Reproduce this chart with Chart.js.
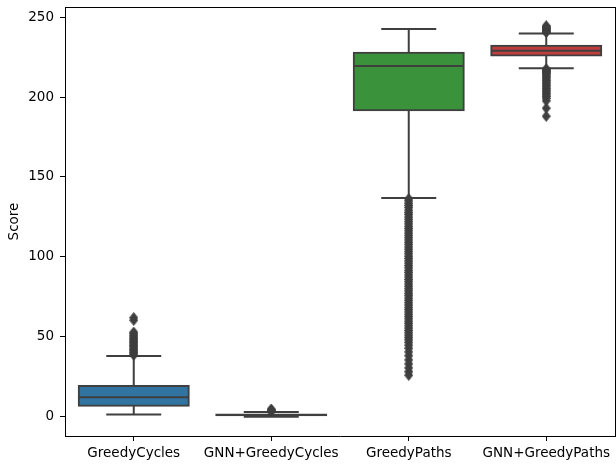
<!DOCTYPE html>
<html><head><meta charset="utf-8">
<script src="https://cdn.jsdelivr.net/npm/chart.js@4"></script>
<style>
html,body{margin:0;padding:0;background:#fff;overflow:hidden;width:616px;height:464px}
#wrap{width:620px;height:464px;position:relative}
</style></head>
<body><div id="wrap"><canvas id="c" width="620" height="464"></canvas></div>
<script>
// ---- data ----
const categories = ['GreedyCycles', 'GNN+GreedyCycles', 'GreedyPaths', 'GNN+GreedyPaths'];
const q1 = [6.9, 0.9, 191.7, 225.9];
const medians = [12.3, 1.1, 219.4, 228.9];
const q3 = [19.3, 1.4, 227.7, 232.1];
const whiskerLow = [1.5, 0.0, 136.8, 218.0];
const whiskerHigh = [38.0, 3.0, 242.6, 239.8];
const outliersGreedyCycles = [38.6, 39.4, 40.3, 41.2, 42.0, 42.9, 43.8, 44.6, 45.5, 46.4, 47.3, 48.1, 49.0, 50.0, 51.0, 52.1, 53.0, 60.4, 62.0];
const outliersGnnGreedyCycles = [3.3, 3.8, 4.3, 4.8];
const outliersGreedyPaths = [136.4, 135.1, 133.6, 132.2, 130.9, 129.3, 127.8, 126.5, 125.0, 123.6, 122.1, 120.7, 119.2, 117.8, 116.4, 114.9, 113.5, 112.0, 110.6, 109.1, 107.7, 106.2, 104.8, 103.3, 101.9, 100.4, 99.0, 97.5, 96.1, 94.6, 93.2, 91.7, 90.3, 88.8, 87.4, 85.9, 84.5, 83.0, 81.6, 80.1, 78.7, 77.2, 75.8, 74.3, 72.9, 71.4, 70.0, 68.5, 67.1, 65.6, 64.2, 62.7, 61.3, 59.8, 58.4, 56.9, 55.5, 54.0, 52.6, 51.1, 49.7, 48.2, 46.6, 44.8, 42.9, 40.6, 38.2, 35.6, 33.1, 30.6, 28.2, 26.0];
const outliersGnnGreedyPaths = [240.4, 240.9, 241.4, 241.9, 242.4, 242.9, 243.4, 243.9, 244.5,
  217.6, 217.1, 216.5, 216.0, 215.4, 214.7, 213.9, 213.0, 212.1, 211.2, 210.3, 209.3, 208.3, 207.3, 206.3, 205.3, 204.3, 203.3, 202.3, 201.3, 200.3, 199.2, 197.6, 193.0, 188.0];
const outlierLists = [outliersGreedyCycles, outliersGnnGreedyCycles, outliersGreedyPaths, outliersGnnGreedyPaths];
const yTicks = [0, 50, 100, 150, 200, 250];
const yTitle = 'Score';

// ---- styles ----
const boxColors = ['#3274a1', '#e1812c', '#3a923a', '#c03d3e'];
const LINE = '#3f3f3f';
const FONT = {family: 'DejaVu Sans', size: 13.5};

// thin diamond marker
const marker = document.createElement('canvas');
marker.width = 9; marker.height = 11;
(function(){
  const m = marker.getContext('2d');
  m.fillStyle = LINE;
  m.strokeStyle = LINE;
  m.lineWidth = 1;
  m.beginPath();
  m.moveTo(4.5, 0.5); m.lineTo(8.5, 5.5); m.lineTo(4.5, 10.5); m.lineTo(0.5, 5.5); m.closePath();
  m.fill(); m.stroke();
})();

const boxParts = {
  id: 'boxParts',
  afterDatasetDraw(chart, args) {
    if (args.index !== 0) return;
    const ctx = chart.ctx, xs = chart.scales.x, ys = chart.scales.y;
    const meta = chart.getDatasetMeta(0);
    ctx.save();
    ctx.strokeStyle = LINE; ctx.lineWidth = 2; ctx.lineCap = 'butt';
    const seg = (x1, y1, x2, y2) => { ctx.beginPath(); ctx.moveTo(x1, y1); ctx.lineTo(x2, y2); ctx.stroke(); };
    categories.forEach((c, i) => {
      const bar = meta.data[i];
      const cx = xs.getPixelForValue(i);
      const half = bar.width / 2, cap = half / 2;
      const yq1 = ys.getPixelForValue(q1[i]), yq3 = ys.getPixelForValue(q3[i]);
      const ylo = ys.getPixelForValue(whiskerLow[i]), yhi = ys.getPixelForValue(whiskerHigh[i]);
      const ym = ys.getPixelForValue(medians[i]);
      seg(cx, yq1, cx, ylo); seg(cx, yq3, cx, yhi);
      seg(cx - cap, ylo, cx + cap, ylo); seg(cx - cap, yhi, cx + cap, yhi);
      seg(bar.x - half, ym, bar.x + half, ym);
    });
    ctx.restore();
  },
  afterDraw(chart) {
    const ctx = chart.ctx, a = chart.chartArea;
    ctx.save();
    ctx.strokeStyle = '#000'; ctx.lineWidth = 1;
    ctx.beginPath();
    ctx.moveTo(a.left, Math.floor(a.top) + 0.5); ctx.lineTo(a.right, Math.floor(a.top) + 0.5);
    ctx.moveTo(Math.floor(a.right) + 0.5, a.top); ctx.lineTo(Math.floor(a.right) + 0.5, a.bottom);
    ctx.stroke();
    ctx.restore();
  }
};

const datasets = [{
  type: 'bar',
  data: categories.map((c, i) => [q1[i], q3[i]]),
  backgroundColor: boxColors,
  borderColor: LINE,
  borderWidth: 2,
  borderSkipped: false,
  inflateAmount: 1,
  barPercentage: 0.8,
  categoryPercentage: 1,
  order: 2
}];
outlierLists.forEach((list, i) => {
  datasets.push({
    type: 'line',
    data: list.map(v => ({x: categories[i], y: v})),
    showLine: false,
    pointStyle: marker,
    pointRadius: 4,
    order: 1
  });
});

new Chart(document.getElementById('c'), {
  type: 'bar',
  data: {labels: categories, datasets},
  plugins: [boxParts],
  options: {
    responsive: false,
    animation: false,
    events: [],
    layout: {padding: {left: 0, right: 2, top: 7, bottom: 0}},
    plugins: {legend: {display: false}, tooltip: {enabled: false}},
    scales: {
      x: {
        type: 'category',
        offset: true,
        grid: {display: true, drawOnChartArea: false, offset: false, tickLength: 5, tickColor: '#000', tickWidth: 1},
        border: {display: true, color: '#000', width: 1},
        ticks: {font: FONT, color: '#000', padding: 4, maxRotation: 0, autoSkip: false},
        afterFit(s) { s.height = 28; s.paddingLeft = 0; s.paddingRight = 0; }
      },
      y: {
        type: 'linear',
        min: -12,
        max: 256.3,
        grid: {display: true, drawOnChartArea: false, tickLength: 5, tickColor: '#000', tickWidth: 1},
        border: {display: true, color: '#000', width: 1},
        ticks: {font: FONT, color: '#000', padding: 6, stepSize: 50, includeBounds: false},
        afterBuildTicks(s) { s.ticks = yTicks.map(v => ({value: v})); },
        title: {display: true, text: yTitle, font: FONT, color: '#000', padding: {top: 6, bottom: 0}},
        afterFit(s) { s.width = 65; s.paddingTop = 0; s.paddingBottom = 0; }
      }
    }
  }
});
</script>
</body></html>
